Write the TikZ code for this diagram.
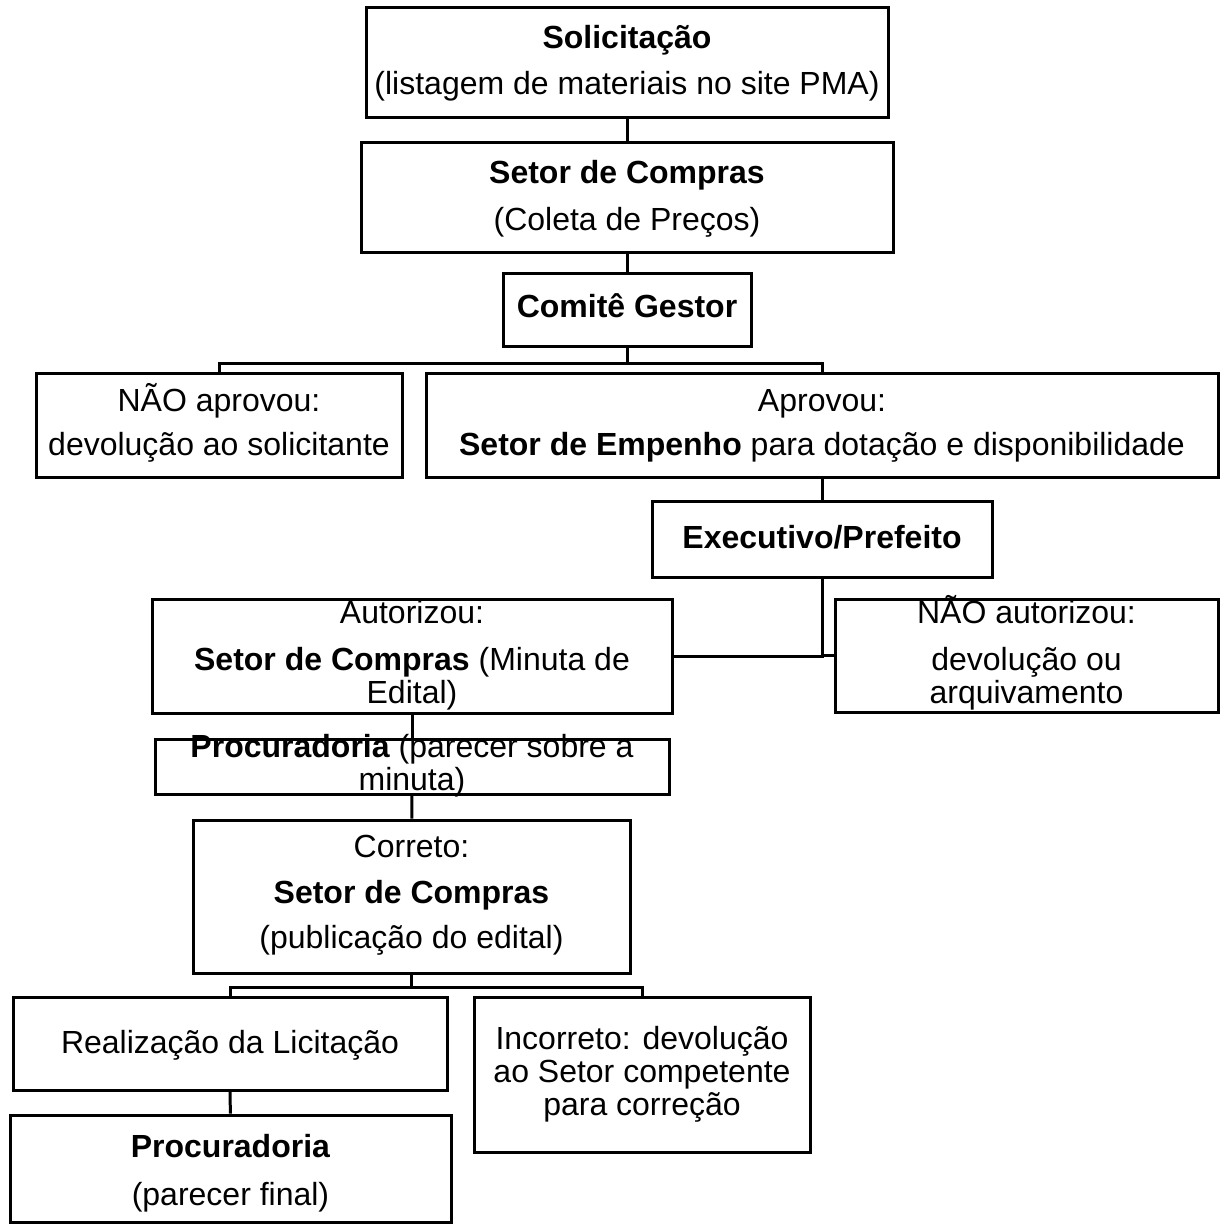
\documentclass[tikz,border=0pt]{standalone}
\usepackage{fontspec}
\setmainfont{Liberation Sans}
\usetikzlibrary{fit}

\begin{document}
\begin{tikzpicture}[x=0.5pt, y=-0.5pt, line width=1.5pt,
    caixa/.style={draw, inner sep=0pt},
    texto/.style={font=\fontsize{16}{16.5}\selectfont, align=center, inner sep=0pt, anchor=base}]
    \useasboundingbox (0,0) rectangle (1223,1225);
    % caixas
    \node[caixa, fit={(366,8) (888,118)}] (solic) {};
    \node[caixa, fit={(361,143) (893,253)}] (compras) {};
    \node[caixa, fit={(503,273) (751,346)}] (comite) {};
    \node[caixa, fit={(36,373) (402,477)}] (naoaprov) {};
    \node[caixa, fit={(426,373) (1218,477)}] (aprov) {};
    \node[caixa, fit={(652,501) (992,577)}] (exec) {};
    \node[caixa, fit={(152,599) (672,713)}] (autor) {};
    \node[caixa, fit={(835,599) (1218,712)}] (naoautor) {};
    \node[caixa, fit={(155,739) (669,794)}] (procmin) {};
    \node[caixa, fit={(193,820) (630,973)}] (correto) {};
    \node[caixa, fit={(13,997) (447,1090)}] (licit) {};
    \node[caixa, fit={(474,997) (810,1152)}] (incorreto) {};
    \node[caixa, fit={(10,1115) (451,1222)}] (procfinal) {};
    % textos (ancorados na linha de base da ultima linha)
    \node[texto] (solic-t) at (627,95) {\textbf{Solicitação}\\[6.5pt](listagem de materiais no site PMA)};
    \node[texto] (compras-t) at (627,231) {\textbf{Setor de Compras}\\[7pt](Coleta de Preços)};
    \node[texto] (comite-t) at (627,317) {\textbf{Comitê Gestor}};
    \node[texto] (naoaprov-t) at (219,455) {NÃO aprovou:\\[5.5pt]devolução ao solicitante};
    \node[texto] (aprov-t) at (822,455) {Aprovou:\\[5.5pt]\textbf{Setor de Empenho} para dotação e disponibilidade};
    \node[texto] (exec-t) at (822,548) {\textbf{Executivo/Prefeito}};
    \node[texto] (autor-t) at (412,703) {Autorizou:\\[7pt]\textbf{Setor de Compras} (Minuta de\\Edital)};
    \node[texto] (naoautor-t) at (1026.5,703) {NÃO autorizou:\\[7pt]devolução ou\\arquivamento};
    \node[texto] (procmin-t) at (412,790) {\textbf{Procuradoria} (parecer sobre a\\minuta)};
    \node[texto] (correto-t) at (411.5,948) {Correto:\\[6.5pt]\textbf{Setor de Compras}\\[6pt](publicação do edital)};
    \node[texto] (licit-t) at (230,1053) {Realização da Licitação};
    \node[texto] (incorreto-t) at (642,1115) {Incorreto: devolução\\ao Setor competente\\para correção};
    \node[texto] (procfinal-t) at (230.5,1205) {\textbf{Procuradoria}\\[7.5pt](parecer final)};
    % ligacoes
    \draw (solic) -- (compras);
    \draw (compras) -- (comite);
    \draw (comite.south) -- ++(0,16) coordinate (jcomite);
    \draw (jcomite) -| (naoaprov.north);
    \draw (jcomite) -| (aprov.north);
    \draw (aprov) -- (exec);
    \draw (exec.south) |- (autor.east);
    \draw (exec.south) |- (naoautor.west);
    \draw (autor) -- (procmin);
    \draw (procmin) -- (correto);
    \draw (correto.south) -- ++(0,13) coordinate (jcorreto);
    \draw (jcorreto) -| (licit.north);
    \draw (jcorreto) -| (incorreto.north);
    \draw (licit) -- (procfinal);
\end{tikzpicture}
\end{document}
